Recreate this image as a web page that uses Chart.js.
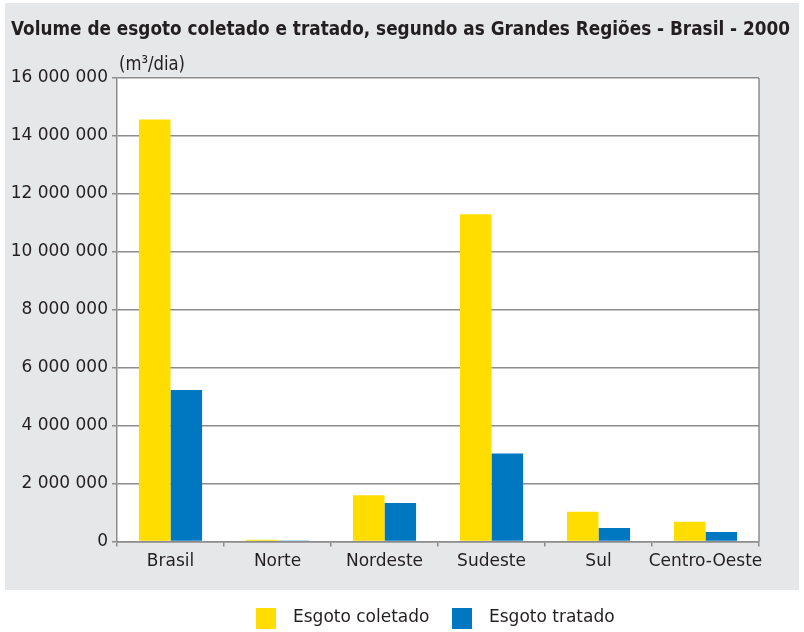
<!DOCTYPE html>
<html><head><meta charset="utf-8">
<script src="https://cdn.jsdelivr.net/npm/chart.js@4/dist/chart.umd.min.js"></script>
<style>html,body{margin:0;padding:0;background:#fff}#wrap{width:804px;height:632px;position:relative}</style>
</head><body><div id="wrap"><canvas id="c"></canvas></div>
<script>
const categories = ['Brasil', 'Norte', 'Nordeste', 'Sudeste', 'Sul', 'Centro-Oeste'];
const coletado = [14570000, 60000, 1600000, 11300000, 1030000, 680000];
const tratado = [5230000, 35000, 1330000, 3040000, 470000, 330000];
const seriesNames = ['Esgoto coletado', 'Esgoto tratado'];
const seriesColors = ['#ffdd00', '#0078c1'];
const yMax = 16000000;
const yStep = 2000000;
const titleText = 'Volume de esgoto coletado e tratado, segundo as Grandes Regiões - Brasil - 2000';
const unitText = '(m³/dia)';

const TEXT = '#231f20';
const GRID = '#8c8c8c';
const fmt = v => String(v).replace(/\B(?=(\d{3})+(?!\d))/g, ' ');

function fitText(ctx, text, x, y, width, font) {
  ctx.save();
  ctx.font = font;
  const w = ctx.measureText(text).width;
  const sx = width / w;
  ctx.translate(x, y);
  ctx.scale(sx, 1);
  ctx.fillText(text, 0, 0);
  ctx.restore();
}

const decor = {
  id: 'decor',
  beforeDraw(chart) {
    const {ctx, chartArea: a} = chart;
    ctx.save();
    ctx.fillStyle = '#fff';
    ctx.fillRect(0, 0, chart.width, chart.height);
    ctx.fillStyle = '#e6e7e8';
    ctx.fillRect(5, 3, 794, a.bottom + 48.5 - 3);
    ctx.fillStyle = '#fff';
    ctx.fillRect(a.left, a.top, a.right - a.left, a.bottom - a.top);
    ctx.fillStyle = TEXT;
    ctx.textBaseline = 'middle';
    ctx.textAlign = 'left';
    fitText(ctx, titleText, 11, 30, 779, 'bold 20px "DejaVu Sans Condensed", "DejaVu Sans", sans-serif');
    fitText(ctx, unitText, 119, 65, 66, '20px "DejaVu Sans Condensed", "DejaVu Sans", sans-serif');
    ctx.restore();
  },
  afterDraw(chart) {
    const {ctx, chartArea: a} = chart;
    ctx.save();
    ctx.strokeStyle = GRID;
    ctx.lineWidth = 1.5;
    ctx.beginPath();
    ctx.moveTo(a.right, a.top);
    ctx.lineTo(a.right, a.bottom);
    ctx.stroke();
    // legend
    const positions = [256, 452];
    ctx.font = '17px "DejaVu Sans", sans-serif';
    ctx.textBaseline = 'middle';
    ctx.textAlign = 'left';
    chart.data.datasets.forEach((ds, i) => {
      ctx.fillStyle = ds.backgroundColor;
      ctx.fillRect(positions[i], 608, 20, 21);
      ctx.fillStyle = TEXT;
      ctx.fillText(ds.label, positions[i] + 37, 618);
    });
    ctx.restore();
  }
};

new Chart(document.getElementById('c'), {
  type: 'bar',
  data: {
    labels: categories,
    datasets: [
      {label: seriesNames[0], data: coletado, backgroundColor: seriesColors[0]},
      {label: seriesNames[1], data: tratado, backgroundColor: seriesColors[1]}
    ]
  },
  options: {
    responsive: true,
    maintainAspectRatio: false,
    animation: false,
    devicePixelRatio: 1,
    layout: {padding: {left: 5, right: 45, top: 78, bottom: 42}},
    datasets: {bar: {categoryPercentage: 0.59, barPercentage: 1.0, borderWidth: 0}},
    plugins: {legend: {display: false}, title: {display: false}, tooltip: {enabled: false}},
    scales: {
      x: {
        ticks: {color: TEXT, font: {family: 'DejaVu Sans', size: 17}, padding: 5, maxRotation: 0, autoSkip: false},
        grid: {offset: true, drawOnChartArea: false, drawTicks: true, tickLength: 5, color: GRID, lineWidth: 1.5},
        border: {color: GRID, width: 1.5},
        afterFit(s) { s.height = 48.5; }
      },
      y: {
        min: 0, max: yMax,
        ticks: {stepSize: yStep, color: TEXT, font: {family: 'DejaVu Sans', size: 17}, padding: 4, callback: v => fmt(v)},
        grid: {color: GRID, lineWidth: 1.5, tickLength: 5, drawTicks: true},
        border: {color: GRID, width: 1.5},
        afterFit(s) { s.width = 112; }
      }
    }
  },
  plugins: [decor]
});
</script>
</body></html>
